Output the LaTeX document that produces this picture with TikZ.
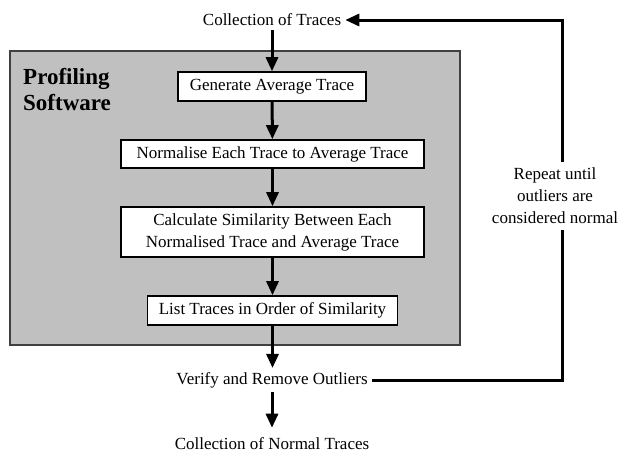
\documentclass[tikz,border=0pt]{standalone}
\usepackage{fontspec}
\setmainfont{Liberation Serif}[BoldFont={Liberation Serif Bold}]
\usetikzlibrary{arrows.meta}
\definecolor{panel}{HTML}{C0C0C0}
\definecolor{panelborder}{HTML}{404040}
\begin{document}
\begin{tikzpicture}[x=1pt,y=-1pt,
  txt/.style={font=\fontsize{17pt}{22pt}\selectfont, inner sep=4pt},
  stepbox/.style={txt, draw=black, fill=white, line width=1.6pt, align=center, inner sep=0pt},
  flow/.style={line width=3pt, -{Triangle[length=14pt,width=12pt]}},
  loopline/.style={line width=3pt}]
\useasboundingbox (0,0) rectangle (620,455);
\fill[white] (0,0) rectangle (620,455);
\draw[fill=panel, draw=panelborder, line width=1.5pt] (10,51) rectangle (460,345);
\node[font=\fontsize{23pt}{26pt}\selectfont\bfseries, align=left, anchor=west, inner sep=0pt] (prof) at (23,90) {Profiling\\Software};
\node[txt] (ct) at (272,20) {Collection of Traces};
\node[stepbox, minimum width=188pt, minimum height=29pt] (b1) at (272,86.5) {Generate Average Trace};
\node[stepbox, minimum width=303pt, minimum height=28pt] (b2) at (272.5,154) {Normalise Each Trace to Average Trace};
\node[stepbox, minimum width=303pt, minimum height=50pt] (b3) at (272.5,232) {Calculate Similarity Between Each\\Normalised Trace and Average Trace};
\node[stepbox, minimum width=250pt, minimum height=29pt] (b4) at (272.5,310.5) {List Traces in Order of Similarity};
\node[txt] (ver) at (272,380) {Verify and Remove Outliers};
\node[txt] (norm) at (272,444) {Collection of Normal Traces};
\node[txt, align=center, inner sep=6pt] (rep) at (555,196) {Repeat until\\outliers are\\considered normal};
\coordinate (cb) at (562,380);
\coordinate (ctop) at (562,20);
\draw[flow] (ct.south -| b1.north) -- (b1.north);
\draw[flow] (b1) -- (b2);
\draw[flow] (b2) -- (b3);
\draw[flow] (b3) -- (b4);
\draw[flow] (b4.south) -- (b4.south |- ver.north);
\draw[flow, shorten >=6pt] (ver) -- (norm);
\draw[loopline] (ver.east) -- (cb) -- (cb |- rep.south);
\draw[flow] (ctop |- rep.north) -- (ctop) -- (ct.east);
\end{tikzpicture}
\end{document}
